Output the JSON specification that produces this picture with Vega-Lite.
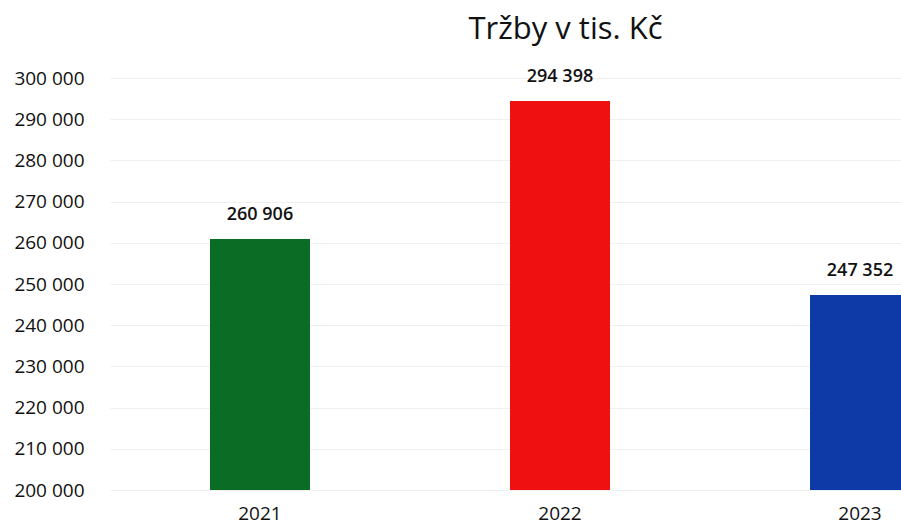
{
  "$schema": "https://vega.github.io/schema/vega-lite/v6.json",
  "autosize": {"type": "none"},
  "width": 791,
  "height": 412,
  "padding": {"left": 110, "top": 78, "right": 0, "bottom": 34},
  "background": "white",
  "title": {"text": "Tržby v tis. Kč", "fontSize": 31, "font": "Open Sans", "fontWeight": "normal", "color": "#111111", "offset": 22, "anchor": "middle", "frame": "group", "dx": 60},
  "config": {
    "view": {"stroke": null},
    "locale": {"number": {"decimal": ",", "thousands": " ", "grouping": [3], "currency": ["", " Kč"]}}
  },
  "data": {"values": [
    {"rok": "2021", "trzby": 260906},
    {"rok": "2022", "trzby": 294398},
    {"rok": "2023", "trzby": 247352}
  ]},
  "encoding": {
    "x": {"field": "rok", "type": "nominal", "sort": null,
      "scale": {"range": [0, 900], "paddingInner": 0.6667, "paddingOuter": 0.3333},
      "axis": {"title": null, "labelAngle": 0, "labelFont": "Open Sans", "labelFontSize": 19, "labelFontWeight": 500, "labelColor": "#111111", "labelPadding": 14, "ticks": false, "domain": false, "grid": false}},
    "y": {"field": "trzby", "type": "quantitative",
      "scale": {"domain": [200000, 300000], "zero": false, "nice": false},
      "axis": {"title": null, "values": [200000, 210000, 220000, 230000, 240000, 250000, 260000, 270000, 280000, 290000, 300000], "format": ",d", "labelFont": "Open Sans", "labelFontSize": 19, "labelColor": "#111111", "labelPadding": 26, "ticks": false, "domain": false, "grid": true, "gridColor": "#f0f0f0", "gridWidth": 1}}
  },
  "layer": [
    {"mark": {"type": "bar"},
     "encoding": {
       "y2": {"datum": 200000},
       "color": {"field": "rok", "type": "nominal", "legend": null,
         "scale": {"domain": ["2021", "2022", "2023"], "range": ["#0b6c26", "#ef1111", "#0d3aa7"]}}
     }},
    {"mark": {"type": "text", "dy": -24, "font": "Open Sans", "fontSize": 18, "fontWeight": 600, "color": "#111111"},
     "encoding": {"text": {"field": "trzby", "type": "quantitative", "format": ",d"}}}
  ]
}
